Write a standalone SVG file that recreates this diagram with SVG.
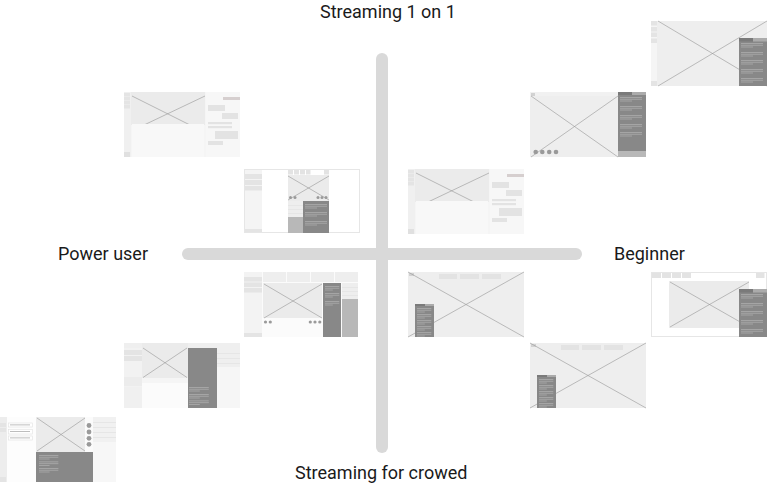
<svg xmlns="http://www.w3.org/2000/svg" xmlns:xlink="http://www.w3.org/1999/xlink" width="767" height="486" viewBox="0 0 767 486">
<style>
.lbl{font-family:Roboto,"Liberation Sans",sans-serif;font-size:18px;fill:#1a1a1a}
.bg{fill:#eeeeee}
.img{fill:#ebebeb}
.pale{fill:#f5f5f5}
.blk{fill:#e4e4e4}
.btn{fill:#e3e3e3}
.dark{fill:#888888}
.tabd{fill:#7a7a7a}
.tabl{fill:#ababab}
.mid{fill:#b8b8b8}
.x{stroke:#959595;stroke-width:0.6;fill:none}
.frame{fill:#ffffff;stroke:#e6e6e6;stroke-width:1}
.dot{fill:#9a9a9a}
.tl{fill:#adadad}
.axis{stroke:#d9d9d9;stroke-width:12;stroke-linecap:round;fill:none}
</style>
<defs>
<g id="tl"><rect class="tl" x="0" y="0" width="22" height="0.8"/><rect class="tl" x="0" y="1.8" width="22" height="0.8"/><rect class="tl" x="0" y="3.6" width="12" height="0.8"/></g>
<g id="tplChat">
<rect class="pale" x="0" y="0" width="116" height="65"/>
<rect fill="#f0f0f0" x="0" y="0" width="7" height="65"/>
<rect class="blk" x="0" y="1" width="6" height="3.5"/>
<rect class="blk" x="0" y="5" width="6" height="3.5"/>
<rect class="blk" x="0" y="9" width="6" height="3.5"/>
<rect class="blk" x="0" y="13" width="6" height="3.5"/>
<rect fill="#e0e0e0" x="0" y="60" width="6" height="5"/>
<rect class="img" x="7" y="0" width="74" height="33"/>
<line class="x" x1="8" y1="4" x2="66" y2="33"/>
<line class="x" x1="81" y1="4" x2="20" y2="33"/>
<rect fill="#f8f8f8" x="8" y="32" width="72" height="33"/>
<rect fill="#f7f7f7" x="82" y="0" width="34" height="65"/>
<rect fill="#d6cfcf" x="99" y="5" width="17" height="3"/>
<rect class="btn" x="84" y="13" width="17" height="6"/>
<rect class="btn" x="98" y="21" width="16" height="6"/>
<rect class="btn" x="84" y="30" width="24" height="2.2"/>
<rect class="btn" x="84" y="34" width="24" height="2.2"/>
<rect class="btn" x="91" y="39" width="23" height="8"/>
<rect class="btn" x="84" y="49" width="15" height="4"/>
</g>
<g id="tplCrowd">
<rect class="bg" x="0" y="0" width="116" height="65"/>
<rect fill="#d2d2d2" x="1" y="1" width="5" height="3"/>
<line class="x" x1="0" y1="0" x2="116" y2="65"/>
<line class="x" x1="0" y1="65" x2="116" y2="0"/>
<rect class="btn" x="31" y="2" width="18" height="5"/>
<rect class="btn" x="52" y="2" width="19" height="5"/>
<rect class="btn" x="74" y="2" width="19" height="5"/>
<rect class="dark" x="7" y="32" width="19" height="33"/>
<rect class="tabd" x="7" y="32" width="10" height="2"/>
<rect class="tabl" x="17" y="32" width="9" height="2"/>
<use xlink:href="#tl" transform="translate(9,36) scale(0.65,1)"/>
<use xlink:href="#tl" transform="translate(9,42) scale(0.65,1)"/>
<use xlink:href="#tl" transform="translate(9,48) scale(0.65,1)"/>
<use xlink:href="#tl" transform="translate(9,54) scale(0.65,1)"/>
<use xlink:href="#tl" transform="translate(9,60) scale(0.65,1)"/>
</g>
</defs>
<rect x="0" y="0" width="767" height="486" fill="#ffffff"/>

<g id="axes">
<line class="axis" x1="188" y1="254" x2="576" y2="254"/>
<line class="axis" x1="382" y1="59" x2="382" y2="447"/>
</g>

<g id="labels">
<text class="lbl" x="320" y="18">Streaming 1 on 1</text>
<text class="lbl" x="58" y="260">Power user</text>
<text class="lbl" x="614" y="260">Beginner</text>
<text class="lbl" x="295" y="479">Streaming for crowed</text>
</g>

<g id="wf-a">
<rect class="bg" x="651" y="21" width="116" height="65"/>
<rect class="pale" x="651" y="21" width="6" height="65"/>
<rect class="blk" x="651" y="21" width="6" height="4.5"/>
<rect class="blk" x="651" y="27" width="6" height="4.5"/>
<rect class="blk" x="651" y="32.5" width="6" height="4.5"/>
<rect class="blk" x="651" y="38.5" width="6" height="4.5"/>
<rect class="blk" x="651" y="81" width="6" height="5"/>
<line class="x" x1="658" y1="21" x2="767" y2="86"/>
<line class="x" x1="658" y1="86" x2="767" y2="21"/>
<rect class="dark" x="739" y="38" width="28" height="48"/>
<rect class="tabd" x="739" y="38" width="14" height="3.5"/>
<rect class="tabl" x="753" y="38" width="14" height="3.5"/>
<use xlink:href="#tl" x="741" y="43"/>
<use xlink:href="#tl" x="741" y="52"/>
<use xlink:href="#tl" x="741" y="60"/>
<use xlink:href="#tl" x="741" y="69"/>
<use xlink:href="#tl" x="741" y="78"/>
</g>

<g id="wf-b">
<rect class="bg" x="530" y="92" width="88" height="65"/>
<rect fill="#f1f1f1" x="530" y="92" width="88" height="4"/>
<rect fill="#d2d2d2" x="531" y="93" width="4" height="3"/>
<line class="x" x1="531" y1="96" x2="618" y2="157"/>
<line class="x" x1="531" y1="157" x2="618" y2="96"/>
<rect class="dark" x="618" y="92" width="28" height="59"/>
<rect class="tabd" x="618" y="92" width="14" height="3"/>
<rect class="tabl" x="632" y="92" width="14" height="3"/>
<rect class="mid" x="618" y="151" width="28" height="6"/>
<use xlink:href="#tl" x="620" y="97"/>
<use xlink:href="#tl" x="620" y="106"/>
<use xlink:href="#tl" x="620" y="115"/>
<use xlink:href="#tl" x="620" y="124"/>
<use xlink:href="#tl" x="620" y="132"/>
<circle class="dot" cx="535.7" cy="152" r="2.3"/>
<circle class="dot" cx="542.3" cy="152" r="2.3"/>
<circle class="dot" cx="549.2" cy="152" r="2.3"/>
<circle class="dot" cx="556" cy="152" r="2.3"/>
</g>

<g id="wf-c">
<use xlink:href="#tplChat" x="124" y="92"/>
</g>

<g id="wf-d">
<rect class="frame" x="244.5" y="169.5" width="115" height="63"/>
<rect fill="#f4f4f4" x="245" y="170" width="17" height="62"/>
<rect class="blk" x="245" y="174" width="17" height="5"/>
<rect class="blk" x="245" y="180" width="17" height="5"/>
<rect class="blk" x="245" y="186" width="17" height="4.5"/>
<rect class="blk" x="245" y="229" width="17" height="3"/>
<rect class="btn" x="288" y="170" width="5" height="4.5"/>
<rect class="btn" x="294" y="170" width="5" height="4.5"/>
<rect class="btn" x="300" y="170" width="5" height="4.5"/>
<rect class="btn" x="306" y="170" width="4.5" height="4.5"/>
<rect class="btn" x="324" y="170" width="5" height="4.5"/>
<rect class="img" x="288" y="175" width="41" height="26"/>
<line class="x" x1="288" y1="176" x2="329" y2="200"/>
<line class="x" x1="288" y1="200" x2="329" y2="176"/>
<circle class="dot" cx="290.5" cy="197.5" r="1.5"/>
<circle class="dot" cx="295" cy="197.5" r="1.5"/>
<circle class="dot" cx="318" cy="197.5" r="1.5"/>
<circle class="dot" cx="322" cy="197.5" r="1.5"/>
<circle class="dot" cx="326" cy="197.5" r="1.5"/>
<rect class="bg" x="288" y="201" width="15" height="16"/>
<rect class="blk" x="288" y="205" width="15" height="0.8"/>
<rect class="blk" x="288" y="209" width="15" height="0.8"/>
<rect class="blk" x="288" y="213" width="15" height="0.8"/>
<rect class="mid" x="288" y="217" width="15" height="16"/>
<rect class="dark" x="303" y="201" width="26" height="32"/>
<use xlink:href="#tl" x="305" y="204"/>
<use xlink:href="#tl" x="305" y="212"/>
<use xlink:href="#tl" x="305" y="221"/>
</g>

<g id="wf-e">
<use xlink:href="#tplChat" x="408" y="169"/>
</g>

<g id="wf-f">
<rect fill="#fbfbfb" x="244" y="272" width="114" height="65"/>
<rect fill="#f3f3f3" x="244" y="272" width="18" height="65"/>
<rect class="blk" x="244" y="277" width="18" height="4.5"/>
<rect class="blk" x="244" y="282.5" width="18" height="4.5"/>
<rect class="blk" x="244" y="288" width="18" height="4.5"/>
<rect class="blk" x="244" y="333" width="18" height="4"/>
<rect fill="#eeeeee" x="263" y="272" width="23" height="10"/>
<rect fill="#eeeeee" x="287" y="272" width="23" height="10"/>
<rect fill="#eeeeee" x="311" y="272" width="23" height="10"/>
<rect fill="#eeeeee" x="335" y="272" width="23" height="10"/>
<rect class="img" x="263" y="283" width="59" height="35"/>
<line class="x" x1="264" y1="284" x2="322" y2="318"/>
<line class="x" x1="264" y1="318" x2="322" y2="284"/>
<circle class="dot" cx="265.5" cy="322" r="1.6"/>
<circle class="dot" cx="270.3" cy="322" r="1.6"/>
<circle class="dot" cx="310.3" cy="322" r="1.6"/>
<circle class="dot" cx="315" cy="322" r="1.6"/>
<circle class="dot" cx="319.8" cy="322" r="1.6"/>
<rect class="dark" x="323" y="283" width="18" height="54"/>
<use xlink:href="#tl" transform="translate(325,286) scale(0.65,1)"/>
<use xlink:href="#tl" transform="translate(325,293) scale(0.65,1)"/>
<use xlink:href="#tl" transform="translate(325,301) scale(0.65,1)"/>
<rect class="bg" x="342" y="283" width="16" height="16"/>
<rect class="blk" x="342" y="287" width="16" height="0.8"/>
<rect class="blk" x="342" y="291" width="16" height="0.8"/>
<rect class="blk" x="342" y="295" width="16" height="0.8"/>
<rect class="mid" x="342" y="299" width="16" height="38"/>
</g>

<g id="wf-g">
<use xlink:href="#tplCrowd" x="408" y="272"/>
</g>

<g id="wf-h">
<rect class="frame" x="651.5" y="272.5" width="115" height="64"/>
<rect class="btn" x="652" y="273" width="9" height="5"/>
<rect class="btn" x="662" y="273" width="9" height="5"/>
<rect class="btn" x="672" y="273" width="9" height="5"/>
<rect class="btn" x="682" y="273" width="9" height="5"/>
<rect class="btn" x="756" y="273" width="8.5" height="5"/>
<rect class="img" x="669" y="281" width="80" height="47"/>
<line class="x" x1="670" y1="282" x2="749" y2="327"/>
<line class="x" x1="670" y1="327" x2="749" y2="282"/>
<rect class="dark" x="739" y="289" width="28" height="48"/>
<rect class="tabd" x="739" y="289" width="14" height="3.5"/>
<rect class="tabl" x="753" y="289" width="14" height="3.5"/>
<use xlink:href="#tl" x="741" y="294"/>
<use xlink:href="#tl" x="741" y="303"/>
<use xlink:href="#tl" x="741" y="311"/>
<use xlink:href="#tl" x="741" y="320"/>
<use xlink:href="#tl" x="741" y="329"/>
</g>

<g id="wf-i">
<use xlink:href="#tplCrowd" x="530" y="343"/>
</g>

<g id="wf-j">
<rect fill="#fbfbfb" x="124" y="343" width="116" height="65"/>
<rect fill="#efefef" x="124" y="343" width="116" height="5"/>
<rect fill="#f2f2f2" x="124" y="348" width="18" height="60"/>
<rect class="blk" x="124" y="350" width="18" height="5"/>
<rect class="blk" x="124" y="356" width="18" height="5"/>
<rect fill="#ececec" x="124" y="377" width="18" height="9"/>
<rect fill="#f0f0f0" x="124" y="387" width="18" height="21"/>
<rect class="img" x="142" y="343" width="46" height="35"/>
<line class="x" x1="143" y1="348" x2="187" y2="377.5"/>
<line class="x" x1="143" y1="377.5" x2="187" y2="348"/>
<rect class="pale" x="142" y="378" width="46" height="5"/>
<rect class="dark" x="188" y="348" width="29" height="60"/>
<use xlink:href="#tl" transform="translate(189,387) scale(0.9,1)"/>
<use xlink:href="#tl" transform="translate(189,394) scale(0.9,1)"/>
<use xlink:href="#tl" transform="translate(189,400.5) scale(0.9,1)"/>
<rect fill="#efefef" x="217" y="348" width="23" height="19"/>
<rect class="blk" x="217" y="353" width="23" height="0.8"/>
<rect class="blk" x="217" y="358" width="23" height="0.8"/>
<rect class="blk" x="217" y="363" width="23" height="0.8"/>
<rect fill="#f6f6f6" x="217" y="367" width="23" height="41"/>
</g>

<g id="wf-k">
<rect fill="#fbfbfb" x="0" y="417" width="116" height="65"/>
<rect fill="#ededed" x="0" y="417" width="7" height="65"/>
<rect class="blk" x="0" y="423" width="6" height="4"/>
<rect class="blk" x="0" y="428" width="6" height="4"/>
<rect class="blk" x="0" y="477" width="6" height="5"/>
<rect fill="#fdfdfd" x="7" y="417" width="29" height="65"/>
<rect x="8.5" y="423" width="24" height="4" fill="#ffffff" stroke="#e2e2e2" stroke-width="0.6"/>
<rect x="8.5" y="429.5" width="24" height="4.5" fill="#ffffff" stroke="#e2e2e2" stroke-width="0.6"/>
<rect x="8.5" y="436" width="24" height="4" fill="#ffffff" stroke="#e2e2e2" stroke-width="0.6"/>
<rect class="tl" x="10" y="424.5" width="20" height="0.8"/>
<rect class="tl" x="10" y="431" width="20" height="0.8"/>
<rect class="tl" x="10" y="437.5" width="20" height="0.8"/>
<rect class="img" x="36" y="417" width="49" height="35"/>
<line class="x" x1="37" y1="418" x2="85" y2="451"/>
<line class="x" x1="37" y1="451" x2="85" y2="418"/>
<circle class="dot" cx="89" cy="425.5" r="2.4"/>
<circle class="dot" cx="89" cy="432" r="2.4"/>
<circle class="dot" cx="89" cy="438.3" r="2.4"/>
<circle class="dot" cx="89" cy="444.3" r="2.4"/>
<rect class="dark" x="36" y="452" width="57" height="30"/>
<use xlink:href="#tl" transform="translate(39,455) scale(0.88,1)"/>
<use xlink:href="#tl" transform="translate(39,461.5) scale(0.88,1)"/>
<use xlink:href="#tl" transform="translate(39,468) scale(0.88,1)"/>
<rect fill="#f1f1f1" x="93" y="417" width="23" height="25"/>
<rect class="blk" x="93" y="422" width="23" height="0.8"/>
<rect class="blk" x="93" y="427" width="23" height="0.8"/>
<rect class="blk" x="93" y="432" width="23" height="0.8"/>
<rect class="blk" x="93" y="437" width="23" height="0.8"/>
<rect fill="#f7f7f7" x="93" y="442" width="23" height="40"/>
</g>
</svg>
